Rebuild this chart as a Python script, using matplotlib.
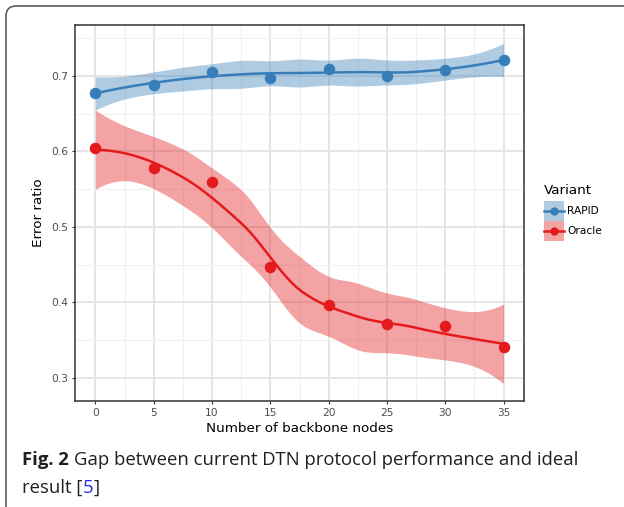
import math
import numpy as np
import matplotlib
matplotlib.use("Agg")
import matplotlib.pyplot as plt
from matplotlib.patches import FancyBboxPatch, Rectangle
from matplotlib.lines import Line2D
from matplotlib.transforms import IdentityTransform

# data
nodes = [0, 5, 10, 15, 20, 25, 30, 35]
rapid = [0.678, 0.688, 0.706, 0.698, 0.710, 0.700, 0.708, 0.722]
oracle = [0.604, 0.578, 0.559, 0.447, 0.397, 0.371, 0.369, 0.341]
variants = ["RAPID", "Oracle"]
colors = ["#377EB8", "#E41A1C"]


def t_quantile(p, df):
    c = math.exp(math.lgamma((df + 1) / 2) - math.lgamma(df / 2)) / math.sqrt(df * math.pi)

    def cdf(t):
        u = np.linspace(0, t, 2001)
        return 0.5 + np.trapezoid(c * (1 + u ** 2 / df) ** (-(df + 1) / 2), u)

    lo, hi = 0.0, 50.0
    for _ in range(60):
        mid = (lo + hi) / 2
        if cdf(mid) < p:
            lo = mid
        else:
            hi = mid
    return (lo + hi) / 2


def loess(x, y, grid, span=0.75):
    # local quadratic fit with tricube weights, evaluated at kd-tree vertices
    # and joined by cubic Hermite pieces (what R's loess does by default)
    x = np.asarray(x, float)
    y = np.asarray(y, float)
    n = len(x)
    q = int(np.floor(n * span))
    fc = int(np.floor(n * span * 0.2))

    def local(x0):
        d = np.abs(x - x0)
        h = np.sort(d)[q - 1]
        u = d / h
        w = np.where(u < 1, (1 - u ** 3) ** 3, 0.0)
        X = np.column_stack([np.ones(n), x - x0, (x - x0) ** 2])
        A = X.T @ (w[:, None] * X)
        S = np.linalg.solve(A, (X * w[:, None]).T)
        return S[0], S[1]

    xs = np.sort(x)
    margin = 0.005 * (xs[-1] - xs[0])
    verts = [xs[0] - margin, xs[-1] + margin]

    def split(lo, hi):
        if hi - lo + 1 <= fc:
            return
        m = (lo + hi) // 2
        verts.append((xs[m] + xs[m + 1]) / 2)
        split(lo, m)
        split(m + 1, hi)

    split(0, n - 1)
    verts = np.sort(verts)
    vals = [local(v) for v in verts]

    def row(x0):
        k = min(max(np.searchsorted(verts, x0) - 1, 0), len(verts) - 2)
        v0, v1 = verts[k], verts[k + 1]
        hh = v1 - v0
        t = (x0 - v0) / hh
        (f0, d0), (f1, d1) = vals[k], vals[k + 1]
        return ((2 * t ** 3 - 3 * t ** 2 + 1) * f0 + (t ** 3 - 2 * t ** 2 + t) * hh * d0
                + (-2 * t ** 3 + 3 * t ** 2) * f1 + (t ** 3 - t ** 2) * hh * d1)

    L = np.array([row(xi) for xi in x])
    G = np.array([row(g) for g in grid])
    R = np.eye(n) - L
    M = R.T @ R
    d1 = np.trace(M)
    d2 = np.trace(M @ M)
    s = np.sqrt(np.sum((R @ y) ** 2) / d1)
    fit = G @ y
    se = s * np.sqrt((G ** 2).sum(axis=1))
    tq = t_quantile(0.975, d1 ** 2 / d2)
    return fit, fit - tq * se, fit + tq * se


W, H = 624, 507
fig = plt.figure(figsize=(W / 100, H / 100), dpi=100)
ax = fig.add_axes([75 / W, 1 - 400.7 / H, 449 / W, 375.7 / H])

grid = np.linspace(min(nodes), max(nodes), 80)
for vals, col in zip([rapid, oracle], colors):
    fit, lo, hi = loess(nodes, vals, grid)
    ax.fill_between(grid, lo, hi, color=col, alpha=0.4, lw=0, zorder=2)
    ax.plot(grid, fit, color=col, lw=1.8, zorder=3)
    ax.plot(nodes, vals, "o", color=col, ms=8.3, mew=0, zorder=4)

ax.set_xlim(-1.75, 36.75)
ax.set_ylim(0.2694, 0.7678)
ax.set_xticks(np.arange(0, 36, 5))
ax.set_xticks(np.arange(2.5, 36, 5), minor=True)
ax.set_yticks([0.3, 0.4, 0.5, 0.6, 0.7])
ax.set_yticklabels(["0.3", "0.4", "0.5", "0.6", "0.7"])
ax.set_yticks([0.35, 0.45, 0.55, 0.65, 0.75], minor=True)
ax.grid(which="major", color="#E6E6E6", lw=1.4, zorder=0)
ax.grid(which="minor", color="#F0F0F0", lw=0.8, zorder=0)
ax.set_axisbelow(True)
for sp in ax.spines.values():
    sp.set_color("#333333")
    sp.set_linewidth(1.1)
ax.tick_params(which="major", length=2.2, width=0.8, color="#333333",
               labelsize=7.7, labelcolor="#4D4D4D", pad=3)
ax.tick_params(which="minor", length=0)

ax.set_xlabel("Number of backbone nodes", fontsize=9.7, color="black", va="center")
ax.xaxis.set_label_coords(0.5, (400.7 - 428) / 375.7)
ax.set_ylabel("Error ratio", fontsize=9.7, color="black", va="center")
ax.yaxis.set_label_coords((38 - 75) / 449, 0.5)

# legend, drawn by hand in pixel coordinates (origin at top-left)
px = IdentityTransform()
fig.text(544 / W, 1 - 194 / H, "Variant", fontsize=9.7, va="baseline")
for i, (name, col) in enumerate(zip(variants, colors)):
    top = 201 + 20 * i
    fig.add_artist(Rectangle((544, H - top - 20), 20, 20, fc=col, alpha=0.4,
                             ec="none", transform=px))
    fig.add_artist(Line2D([544, 564], [H - top - 10] * 2, color=col, lw=1.8,
                          transform=px))
    fig.add_artist(Line2D([554], [H - top - 10], color=col, marker="o", ms=6,
                          mew=0, transform=px))
    fig.text(567 / W, 1 - (top + 10.5) / H, name, fontsize=7.7, va="center")

# frame around the figure panel
fig.add_artist(FancyBboxPatch((6, -30), 700, H - 6 + 30,
                              boxstyle="round,pad=0,rounding_size=10",
                              fc="none", ec="#5A5A5A", lw=1.2, transform=px))

# caption
cap_font = ["Open Sans", "DejaVu Sans"]
cap_size = 13.3
cap_col = "#231F20"
r = fig.canvas.get_renderer()
t1 = fig.text(22 / W, 1 - 465 / H, "Fig. 2", fontsize=cap_size, family=cap_font,
              weight="bold", color=cap_col, va="baseline")
x1 = t1.get_window_extent(r).x1
fig.text(x1 / W + 5 / W, 1 - 465 / H,
         "Gap between current DTN protocol performance and ideal",
         fontsize=cap_size, family=cap_font, color=cap_col, va="baseline")
t3 = fig.text(22 / W, 1 - 493 / H, "result [", fontsize=cap_size, family=cap_font,
              color=cap_col, va="baseline")
x3 = t3.get_window_extent(r).x1
t4 = fig.text(x3 / W, 1 - 493 / H, "5", fontsize=cap_size, family=cap_font,
              color="#2B2BE0", va="baseline")
x4 = t4.get_window_extent(r).x1
fig.text(x4 / W, 1 - 493 / H, "]", fontsize=cap_size, family=cap_font,
         color=cap_col, va="baseline")

fig.savefig("out.png", dpi=100)
